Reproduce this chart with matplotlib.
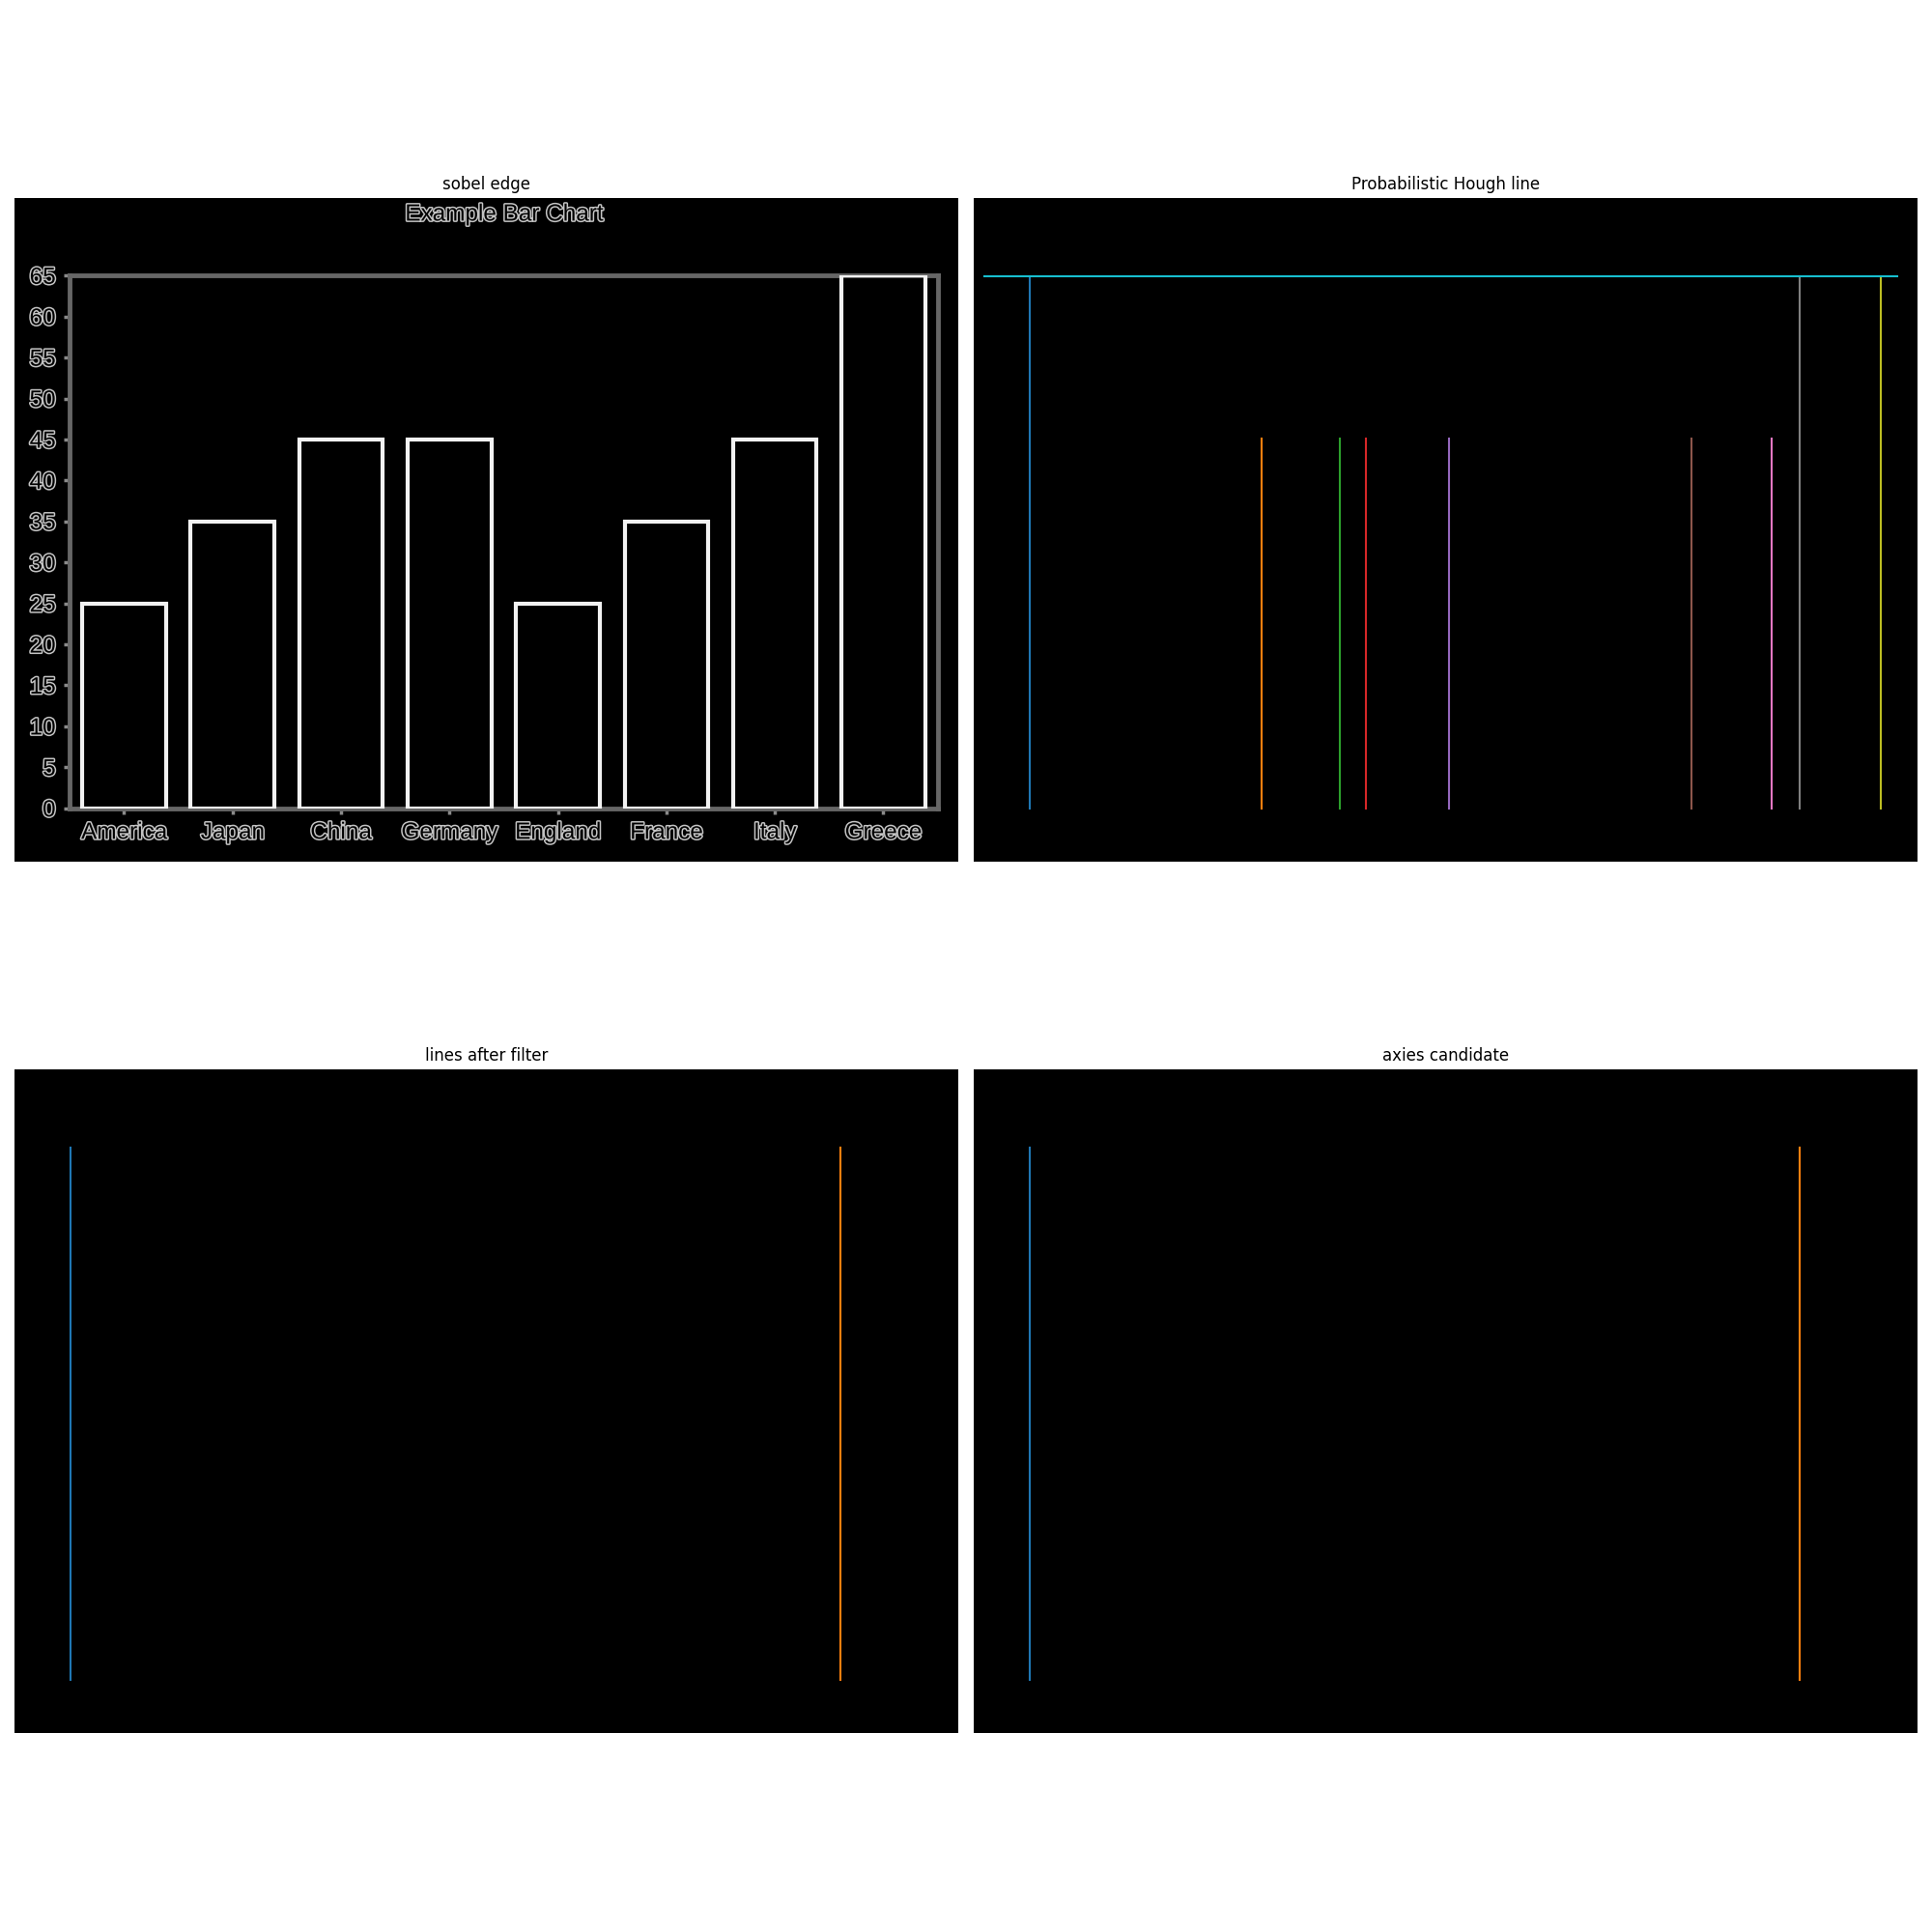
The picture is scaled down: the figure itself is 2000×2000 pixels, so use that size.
import matplotlib
matplotlib.use("Agg")
import matplotlib.pyplot as plt
import matplotlib.patheffects as pe
import numpy as np

# ---- data ----
IMG_W, IMG_H = 640, 450
categories = ["America", "Japan", "China", "Germany", "England", "France", "Italy", "Greece"]
values = [25, 35, 45, 45, 25, 35, 45, 65]
yticks = list(range(0, 70, 5))
chart_title = "Example Bar Chart"

# Hough segments (x0, y0, x1, y1) in image pixels
hough_lines = [
    (38, 414, 38, 53),
    (195, 414, 195, 163),
    (248, 414, 248, 163),
    (266, 414, 266, 163),
    (322, 414, 322, 163),
    (487, 414, 487, 163),
    (541, 414, 541, 163),
    (560, 414, 560, 53),
    (615, 414, 615, 53),
    (7, 53, 626, 53),
]
filtered_lines = [
    (38, 414, 38, 53),
    (560, 414, 560, 53),
]
candidate_lines = [
    (38, 414, 38, 53),
    (560, 414, 560, 53),
]
panel_titles = ["sobel edge", "Probabilistic Hough line", "lines after filter", "axies candidate"]

# inner chart axes box in image pixels (left, top, right, bottom)
inner_box = (37.5, 52.8, 626.0, 414.0)

fig = plt.figure(figsize=(20, 20), dpi=100)

W = 977 / 2000.0
H = W * IMG_H / IMG_W
positions = [
    (15 / 2000.0, 1 - 204.7 / 2000.0 - H),
    (1008 / 2000.0, 1 - 204.7 / 2000.0 - H),
    (15 / 2000.0, 1 - 1106.7 / 2000.0 - H),
    (1008 / 2000.0, 1 - 1106.7 / 2000.0 - H),
]

axes = []
for (l, b), t in zip(positions, panel_titles):
    ax = fig.add_axes([l, b, W, H])
    ax.set_facecolor("black")
    ax.set_xlim(0, IMG_W)
    ax.set_ylim(IMG_H, 0)
    ax.set_xticks([])
    ax.set_yticks([])
    for s in ax.spines.values():
        s.set_visible(False)
    ax.set_title(t)
    axes.append(ax)

# ---- panel 1: sobel edge rendering of the bar chart ----
ax0 = axes[0]
x0, y0, x1, y1 = inner_box
bounds = [x0 / IMG_W, 1 - y1 / IMG_H, (x1 - x0) / IMG_W, (y1 - y0) / IMG_H]
ai = ax0.inset_axes(bounds)
ai.set_facecolor("none")
xs = np.arange(len(categories))
ai.bar(xs, values, width=0.77, facecolor="none", edgecolor="#f2f2f2",
       linewidth=3.0, zorder=3)
ai.set_xlim(-0.5, len(categories) - 0.5)
ai.set_ylim(0, 65)
ai.set_xticks(xs)
ai.set_xticklabels(categories)
ai.set_yticks(yticks)
for s in ai.spines.values():
    s.set_color("#666666")
    s.set_linewidth(3.5)
ai.tick_params(axis="both", direction="out", length=4.5, width=2.5, color="#8a8a8a")
ai.tick_params(axis="y", pad=6)
ai.tick_params(axis="x", pad=6)

outline = [pe.Stroke(linewidth=2.2, foreground="#c4c4c4"), pe.Normal()]
for lab in ai.get_xticklabels() + ai.get_yticklabels():
    lab.set_family("Liberation Sans")
    lab.set_fontsize(17.5)
    lab.set_color("black")
    lab.set_path_effects(outline)
tt = ai.set_title(chart_title, pad=41, fontsize=17.5, family="Liberation Sans", color="black")
tt.set_path_effects(outline)

# ---- panels 2-4: detected line segments ----
for ax, segs in zip(axes[1:], [hough_lines, filtered_lines, candidate_lines]):
    for (xa, ya, xb, yb) in segs:
        ax.plot([xa, xb], [ya, yb])
    ax.set_xlim(0, IMG_W)
    ax.set_ylim(IMG_H, 0)

fig.savefig("out.png", dpi=100)
